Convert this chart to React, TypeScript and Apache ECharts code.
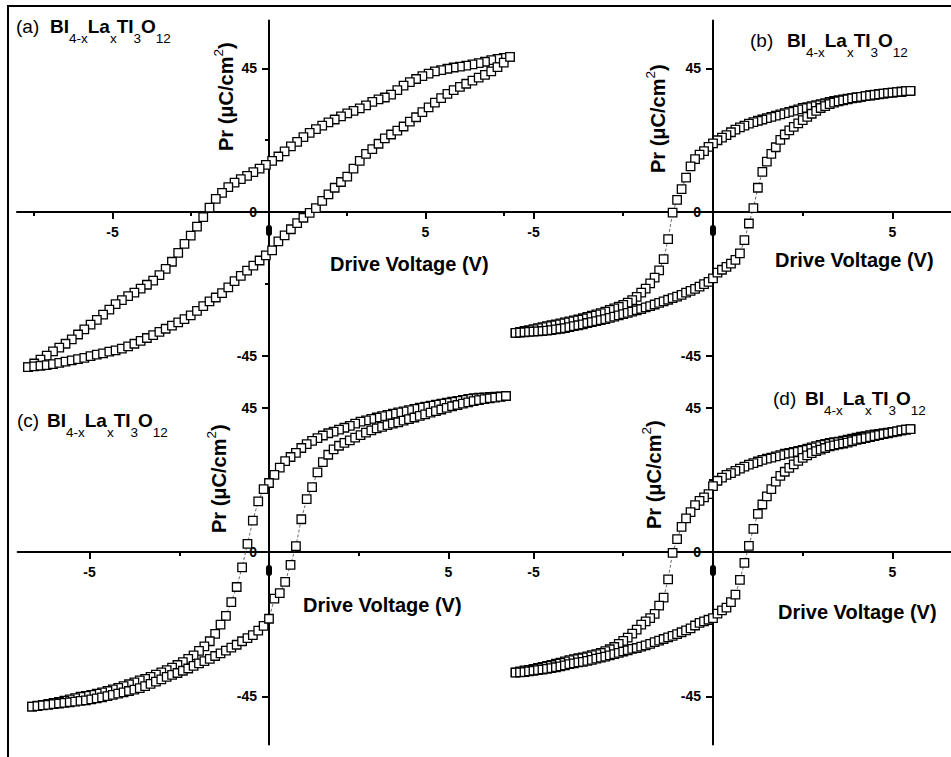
import React, { useEffect, useRef } from "react";
import * as echarts from "echarts";

// ---------------- data ----------------
const voltsA = [
  -7.7, -7.5, -7.3, -7.1, -6.9, -6.7, -6.5, -6.3, -6.1, -5.9, -5.7, -5.5, -5.3, -5.1, -4.9, -4.7, -4.5, -4.3, -4.1, -3.9,
  -3.7, -3.5, -3.3, -3.1, -2.9, -2.7, -2.5, -2.3, -2.1, -1.9, -1.7, -1.5, -1.3, -1.1, -0.9, -0.7, -0.5, -0.3, -0.1,
  0.1, 0.3, 0.5, 0.7, 0.9, 1.1, 1.3, 1.5, 1.7, 1.9, 2.1, 2.3, 2.5, 2.7, 2.9, 3.1, 3.3, 3.5, 3.7, 3.9,
  4.1, 4.3, 4.5, 4.7, 4.9, 5.1, 5.3, 5.5, 5.7, 5.9, 6.1, 6.3, 6.5, 6.7, 6.9, 7.1, 7.3, 7.5, 7.7,
];
const prUpperA = [
  -48.6, -47.5, -46.3, -45.0, -43.7, -42.5, -41.3, -39.9, -38.4, -36.8, -35.3, -33.8, -32.2, -30.6, -28.9, -27.6, -26.4, -25.3, -24.0, -22.8,
  -21.5, -19.8, -17.8, -15.6, -12.8, -10.0, -7.4, -4.6, -1.6, 1.4, 4.1, 6.0, 7.8, 9.2, 10.3, 11.3, 12.5, 13.6, 14.8,
  16.0, 17.4, 19.0, 20.6, 22.0, 23.5, 24.8, 26.0, 27.1, 28.1, 29.0, 30.0, 30.9, 31.7, 32.5, 33.4, 34.5, 35.3, 35.9, 36.8,
  38.2, 39.6, 40.7, 41.7, 42.6, 43.4, 44.1, 44.5, 44.9, 45.3, 45.6, 45.9, 46.3, 46.7, 47.1, 47.6, 48.0, 48.3, 48.6,
];
const prLowerA = [
  -48.6, -48.4, -48.2, -48.0, -47.7, -47.3, -46.9, -46.5, -46.1, -45.7, -45.2, -44.7, -44.3, -43.8, -43.4, -42.8, -42.1, -41.3, -40.4, -39.5,
  -38.6, -37.6, -36.6, -35.6, -34.6, -33.6, -32.4, -31.0, -29.5, -28.0, -26.8, -25.4, -23.6, -21.7, -20.0, -18.4, -16.8, -15.2, -13.6,
  -12.0, -9.2, -7.3, -5.4, -3.5, -1.8, -0.3, 1.2, 3.5, 5.5, 7.6, 9.4, 11.1, 13.6, 16.0, 18.2, 19.7, 21.4, 23.1, 24.3,
  25.5, 26.8, 28.3, 29.7, 31.3, 32.8, 34.3, 35.7, 37.0, 38.2, 39.2, 40.2, 41.2, 42.1, 43.0, 44.1, 45.4, 46.8, 48.6,
];

const voltsB = [
  -5.5, -5.375, -5.25, -5.125, -5, -4.875, -4.75, -4.625, -4.5, -4.375, -4.25, -4.125, -4, -3.875, -3.75, -3.625, -3.5, -3.375, -3.25, -3.125,
  -3, -2.875, -2.75, -2.625, -2.5, -2.375, -2.25, -2.125, -2, -1.875, -1.75, -1.625, -1.5, -1.375, -1.25, -1.125, -1, -0.875, -0.75, -0.625,
  -0.5, -0.375, -0.25, -0.125, 0, 0.125, 0.25, 0.375, 0.5, 0.625, 0.75, 0.875, 1, 1.125, 1.25, 1.375, 1.5, 1.625, 1.75, 1.875,
  2, 2.125, 2.25, 2.375, 2.5, 2.625, 2.75, 2.875, 3, 3.125, 3.25, 3.375, 3.5, 3.625, 3.75, 3.875, 4, 4.125, 4.25, 4.375,
  4.5, 4.625, 4.75, 4.875, 5, 5.125, 5.25, 5.375, 5.5,
];
const prUpperB = [
  -37.9, -37.6, -37.3, -37.0, -36.7, -36.4, -36.1, -35.8, -35.5, -35.2, -34.9, -34.6, -34.3, -34.0, -33.7, -33.3, -32.9, -32.5, -32.1, -31.7,
  -31.2, -30.7, -30.2, -29.7, -29.1, -28.4, -27.6, -26.6, -25.3, -24.0, -22.4, -20.6, -18.3, -14.8, -8.5, -0.2, 3.8, 7.2, 10.8, 14.3,
  16.6, 18.0, 19.1, 20.4, 21.5, 22.5, 23.3, 24.1, 25.0, 25.8, 26.5, 27.1, 27.7, 28.2, 28.6, 29.0, 29.4, 29.8, 30.2, 30.6,
  31.0, 31.4, 31.8, 32.2, 32.6, 32.9, 33.2, 33.5, 33.8, 34.1, 34.5, 34.8, 35.1, 35.3, 35.5, 35.7, 35.9, 36.1, 36.3, 36.6,
  36.8, 37.0, 37.1, 37.3, 37.4, 37.6, 37.7, 37.9, 38.0,
];
const prLowerB = [
  -37.9, -37.8, -37.7, -37.6, -37.5, -37.4, -37.3, -37.2, -37.0, -36.8, -36.6, -36.4, -36.1, -35.8, -35.5, -35.2, -34.8, -34.5, -34.2, -33.9,
  -33.6, -33.2, -32.8, -32.4, -32.0, -31.6, -31.2, -30.8, -30.4, -29.9, -29.5, -29.0, -28.5, -28.0, -27.5, -27.0, -26.5, -26.0, -25.3, -24.7,
  -24.1, -23.4, -22.6, -21.9, -20.8, -19.0, -18.1, -17.2, -16.2, -15.0, -13.0, -8.8, -3.6, 1.2, 7.6, 12.6, 15.8, 18.2, 20.3, 22.6,
  24.3, 25.6, 26.7, 27.8, 28.8, 29.8, 30.8, 31.7, 32.6, 33.2, 33.8, 34.3, 34.7, 35.0, 35.3, 35.6, 35.9, 36.1, 36.3, 36.5,
  36.7, 36.9, 37.1, 37.3, 37.4, 37.6, 37.7, 37.9, 38.0,
];

const voltsC = [
  -6.6, -6.45, -6.3, -6.15, -6, -5.85, -5.7, -5.55, -5.4, -5.25, -5.1, -4.95, -4.8, -4.65, -4.5, -4.35, -4.2, -4.05, -3.9, -3.75,
  -3.6, -3.45, -3.3, -3.15, -3, -2.85, -2.7, -2.55, -2.4, -2.25, -2.1, -1.95, -1.8, -1.65, -1.5, -1.35, -1.2, -1.05, -0.9, -0.75,
  -0.6, -0.45, -0.3, -0.15, 0, 0.15, 0.3, 0.45, 0.6, 0.75, 0.9, 1.05, 1.2, 1.35, 1.5, 1.65, 1.8, 1.95, 2.1, 2.25,
  2.4, 2.55, 2.7, 2.85, 3, 3.15, 3.3, 3.45, 3.6, 3.75, 3.9, 4.05, 4.2, 4.35, 4.5, 4.65, 4.8, 4.95, 5.1, 5.25,
  5.4, 5.55, 5.7, 5.85, 6, 6.15, 6.3, 6.45, 6.6,
];
const prUpperC = [
  -48.2, -47.9, -47.6, -47.3, -47.0, -46.7, -46.3, -45.9, -45.5, -45.1, -44.8, -44.5, -44.1, -43.7, -43.3, -42.8, -42.3, -41.8, -41.2, -40.6,
  -40.0, -39.5, -38.9, -38.2, -37.5, -36.8, -36.0, -35.2, -34.3, -33.3, -32.2, -30.8, -29.4, -27.8, -25.5, -22.6, -19.9, -15.6, -10.9, -4.8,
  2.5, 9.8, 15.8, 19.6, 21.5, 24.0, 26.3, 28.3, 29.6, 30.9, 32.4, 33.6, 34.6, 35.5, 36.3, 37.0, 37.5, 38.1, 38.7, 39.3,
  40.0, 40.6, 41.0, 41.5, 41.9, 42.3, 42.7, 43.1, 43.5, 43.8, 44.2, 44.6, 45.0, 45.3, 45.6, 45.9, 46.2, 46.5, 46.8, 47.1,
  47.4, 47.7, 47.9, 48.1, 48.2, 48.3, 48.4, 48.5, 48.6,
];
const prLowerC = [
  -48.2, -48.0, -47.8, -47.6, -47.4, -47.2, -47.0, -46.8, -46.6, -46.4, -46.2, -45.9, -45.6, -45.3, -44.9, -44.5, -44.1, -43.7, -43.3, -42.9,
  -42.4, -41.8, -41.1, -40.4, -39.7, -38.9, -38.3, -37.7, -37.0, -36.3, -35.5, -34.7, -34.0, -33.3, -32.4, -31.6, -30.7, -29.8, -28.9, -27.8,
  -26.8, -25.9, -24.5, -23.0, -20.8, -14.5, -12.8, -9.3, -4.0, 1.8, 10.2, 16.5, 20.2, 24.8, 28.0, 30.3, 32.0, 33.1, 34.0, 34.8,
  35.6, 36.4, 37.2, 37.9, 38.5, 39.0, 39.5, 40.0, 40.4, 40.9, 41.4, 41.9, 42.4, 42.9, 43.4, 43.9, 44.4, 44.9, 45.4, 45.8,
  46.2, 46.6, 47.0, 47.3, 47.6, 47.9, 48.1, 48.3, 48.6,
];

const voltsD = [
  -5.5, -5.375, -5.25, -5.125, -5, -4.875, -4.75, -4.625, -4.5, -4.375, -4.25, -4.125, -4, -3.875, -3.75, -3.625, -3.5, -3.375, -3.25, -3.125,
  -3, -2.875, -2.75, -2.625, -2.5, -2.375, -2.25, -2.125, -2, -1.875, -1.75, -1.625, -1.5, -1.375, -1.25, -1.125, -1, -0.875, -0.75, -0.625,
  -0.5, -0.375, -0.25, -0.125, 0, 0.125, 0.25, 0.375, 0.5, 0.625, 0.75, 0.875, 1, 1.125, 1.25, 1.375, 1.5, 1.625, 1.75, 1.875,
  2, 2.125, 2.25, 2.375, 2.5, 2.625, 2.75, 2.875, 3, 3.125, 3.25, 3.375, 3.5, 3.625, 3.75, 3.875, 4, 4.125, 4.25, 4.375,
  4.5, 4.625, 4.75, 4.875, 5, 5.125, 5.25, 5.375, 5.5,
];
const prUpperD = [
  -37.5, -37.2, -36.9, -36.7, -36.4, -36.1, -35.8, -35.5, -35.2, -34.8, -34.5, -34.1, -33.7, -33.4, -33.1, -32.8, -32.5, -32.1, -31.8, -31.4,
  -30.9, -30.3, -29.6, -28.6, -27.7, -26.7, -25.4, -24.2, -22.6, -21.6, -20.6, -19.3, -16.7, -14.2, -8.5, -0.3, 4.0, 7.8, 10.5, 12.4,
  14.6, 15.9, 17.0, 18.0, 20.5, 22.2, 23.2, 24.0, 24.6, 25.3, 26.0, 26.6, 27.2, 27.7, 28.2, 28.7, 29.1, 29.4, 29.8, 30.2,
  30.6, 30.9, 31.2, 31.5, 31.8, 32.2, 32.6, 33.0, 33.4, 33.7, 34.0, 34.2, 34.4, 34.7, 35.0, 35.3, 35.6, 35.9, 36.1, 36.4,
  36.6, 36.8, 37.0, 37.2, 37.4, 37.6, 37.9, 38.1, 38.3,
];
const prLowerD = [
  -37.6, -37.5, -37.4, -37.2, -37.0, -36.8, -36.6, -36.4, -36.2, -35.9, -35.6, -35.3, -34.9, -34.7, -34.4, -34.2, -33.9, -33.6, -33.2, -32.9,
  -32.6, -32.2, -31.8, -31.4, -31.0, -30.6, -30.2, -29.9, -29.5, -29.1, -28.6, -28.1, -27.6, -27.1, -26.6, -26.1, -25.6, -25.0, -24.4, -23.8,
  -22.9, -22.1, -21.6, -21.1, -20.6, -19.2, -18.2, -17.3, -15.6, -13.3, -8.7, -3.4, 1.9, 7.2, 11.9, 14.8, 17.3, 19.6, 21.9, 23.7,
  25.0, 26.2, 27.3, 28.4, 29.3, 30.1, 30.8, 31.4, 31.9, 32.4, 32.9, 33.2, 33.5, 33.8, 34.1, 34.5, 34.9, 35.2, 35.5, 35.8,
  36.1, 36.4, 36.7, 37.0, 37.3, 37.6, 37.9, 38.1, 38.3,
];

// tick values / labels
const xLabelValues = [-5, 0, 5];
const xMajorTicks = [-5, 5];
const xMinorTicks = [-7.5, -2.5, 2.5, 7.5];
const yLabelValues = [-45, 0, 45];
const yMajorTicks = [-45, 45];
const yMinorTicks = [-22.5, 22.5];
const yRange = [-60, 60];

// texts
const panelLetters = ["(a)", "(b)", "(c)", "(d)"];
const formulaParts: [string, "m" | "s"][] = [
  ["BI", "m"], ["4-x", "s"], ["La", "m"], ["x", "s"], ["TI", "m"], ["3", "s"], ["O", "m"], ["12", "s"],
];
const xTitle = "Drive Voltage (V)";
const yTitleMain = "Pr (μC/cm";
const yTitleSup = "2";
const yTitleEnd = ")";

// ---------------- layout (pixels) ----------------
const FONT = "'Liberation Sans', Arial, Helvetica, sans-serif";

const panels = [
  { volts: voltsA, up: prUpperA, low: prLowerA, xMin: -8.05, xMax: 8, left: 17, width: 502.4, top: 20.6, height: 382.8 },
  { volts: voltsB, up: prUpperB, low: prLowerB, xMin: -7, xMax: 6.63, left: 461.7, width: 489.3, top: 20.6, height: 382.8 },
  { volts: voltsC, up: prUpperC, low: prLowerC, xMin: -7, xMax: 7, left: 17.7, width: 502.6, top: 359.4, height: 385.2 },
  { volts: voltsD, up: prUpperD, low: prLowerD, xMin: -7, xMax: 6.63, left: 461.7, width: 489.3, top: 359.4, height: 385.2 },
];

const titleLayout = [
  { lx: 16, bx: 50, y: 26 },
  { lx: 750, bx: 787, y: 40 },
  { lx: 17, bx: 47, y: 420 },
  { lx: 773, bx: 805, y: 398 },
];
const xTitleLayout = [
  { x: 330, y: 264 },
  { x: 775, y: 260 },
  { x: 303, y: 604.5 },
  { x: 778, y: 611.5 },
];
const yTitleLayout = [
  { x: 225.5, yb: 151 },
  { x: 657.5, yb: 173 },
  { x: 218.5, yb: 533 },
  { x: 653.5, yb: 529 },
];

function textEl(t: string, x: number, y: number, font: string, rotation = 0) {
  return {
    type: "text",
    x,
    y,
    rotation,
    silent: true,
    z: 50,
    style: {
      text: t,
      font,
      fill: "#000",
      textAlign: "left",
      textVerticalAlign: "middle",
      align: "left",
      verticalAlign: "middle",
    },
  };
}

export default function App() {
  const ref = useRef<HTMLDivElement>(null);

  useEffect(() => {
    if (!ref.current) return;
    const chart = echarts.init(ref.current, null, { renderer: "svg" });

    const ctx = document.createElement("canvas").getContext("2d")!;
    const measure = (t: string, font: string) => {
      ctx.font = font;
      return ctx.measureText(t).width;
    };

    const axisLineStyle = { color: "#000", width: 2 };
    const labelFont = { fontFamily: FONT, fontWeight: "bold" as const, fontSize: 14, color: "#000" };

    const grid: any[] = [];
    const xAxis: any[] = [];
    const yAxis: any[] = [];
    const series: any[] = [];
    const graphic: any[] = [];

    panels.forEach((p, i) => {
      grid.push({ left: p.left, top: p.top, width: p.width, height: p.height, containLabel: false, outerBoundsMode: "none" });
      // the axes cross at the origin: shift them from the grid edges by offsets
      const xOffset = -p.height * ((0 - yRange[0]) / (yRange[1] - yRange[0]));
      const yOffset = -p.width * ((0 - p.xMin) / (p.xMax - p.xMin));

      xAxis.push({
        type: "value",
        gridIndex: i,
        min: p.xMin,
        max: p.xMax,
        position: "bottom",
        offset: xOffset,
        axisLine: { show: true, onZero: false, lineStyle: axisLineStyle },
        axisTick: { show: true, customValues: xMajorTicks, length: 7, lineStyle: axisLineStyle },
        axisLabel: {
          show: true,
          customValues: xLabelValues,
          margin: 13,
          ...labelFont,
          formatter: (v: number) => (v === 0 ? "{dot|}" : String(v)),
          rich: { dot: { width: 6, height: 11, backgroundColor: "#000", borderRadius: 3 } },
        },
        splitLine: { show: false },
      });
      xAxis.push({
        type: "value",
        gridIndex: i,
        min: p.xMin,
        max: p.xMax,
        position: "bottom",
        offset: xOffset,
        axisLine: { show: false, onZero: false },
        axisTick: { show: true, customValues: xMinorTicks, length: 4, lineStyle: axisLineStyle },
        axisLabel: { show: false },
        splitLine: { show: false },
      });
      yAxis.push({
        type: "value",
        gridIndex: i,
        min: yRange[0],
        max: yRange[1],
        position: "left",
        offset: yOffset,
        axisLine: { show: true, onZero: false, lineStyle: axisLineStyle },
        axisTick: { show: true, customValues: yMajorTicks, length: 7, lineStyle: axisLineStyle },
        axisLabel: { show: true, customValues: yLabelValues, margin: 12, ...labelFont },
        splitLine: { show: false },
      });
      yAxis.push({
        type: "value",
        gridIndex: i,
        min: yRange[0],
        max: yRange[1],
        position: "left",
        offset: yOffset,
        axisLine: { show: false, onZero: false },
        axisTick: { show: true, customValues: yMinorTicks, length: 4, lineStyle: axisLineStyle },
        axisLabel: { show: false },
        splitLine: { show: false },
      });

      const upper = p.volts.map((v, k) => [v, p.up[k]]).reverse();
      const lower = p.volts.map((v, k) => [v, p.low[k]]);
      [upper, lower].forEach((data) => {
        series.push({
          type: "line",
          xAxisIndex: 2 * i,
          yAxisIndex: 2 * i,
          data,
          symbol: "rect",
          symbolSize: 8.5,
          showSymbol: true,
          lineStyle: { width: 0.8, color: "#444", type: [3, 2] },
          itemStyle: { color: "#fff", borderColor: "#000", borderWidth: 1.3 },
          emphasis: { disabled: true },
          silent: true,
          z: 3,
        });
      });

      // panel title with chemical formula
      const tl = titleLayout[i];
      graphic.push(textEl(panelLetters[i], tl.lx, tl.y, `19px ${FONT}`));
      let x = tl.bx;
      formulaParts.forEach(([t, kind]) => {
        const font = kind === "m" ? `bold 19px ${FONT}` : `13.5px ${FONT}`;
        graphic.push(textEl(t, x, kind === "m" ? tl.y : tl.y + 12.5, font));
        x += measure(t, font);
      });

      // x axis title
      const xt = xTitleLayout[i];
      graphic.push(textEl(xTitle, xt.x, xt.y, `bold 20px ${FONT}`));

      // y axis title (rotated, reading upward)
      const yt = yTitleLayout[i];
      const mainFont = `bold 20px ${FONT}`;
      const supFont = `13.5px ${FONT}`;
      const w1 = measure(yTitleMain, mainFont);
      const w2 = measure(yTitleSup, supFont);
      graphic.push(textEl(yTitleMain, yt.x, yt.yb, mainFont, Math.PI / 2));
      graphic.push(textEl(yTitleSup, yt.x - 7, yt.yb - w1, supFont, Math.PI / 2));
      graphic.push(textEl(yTitleEnd, yt.x, yt.yb - w1 - w2, mainFont, Math.PI / 2));
    });

    // outer frame
    graphic.push({
      type: "rect",
      silent: true,
      z: 1,
      shape: { x: 8, y: 6, width: 1000, height: 1000 },
      style: { fill: "none", stroke: "#000", lineWidth: 2 },
    });

    chart.setOption({
      animation: false,
      backgroundColor: "#fff",
      grid,
      xAxis,
      yAxis,
      series,
      graphic: { elements: graphic },
    });

    return () => chart.dispose();
  }, []);

  return (
    <div
      ref={ref}
      style={{ position: "fixed", left: 0, top: 0, width: "951px", height: "757px", background: "#fff" }}
    />
  );
}
